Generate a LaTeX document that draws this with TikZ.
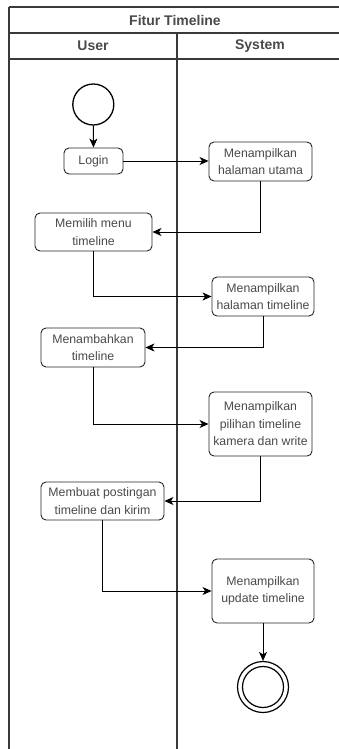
\documentclass[tikz,border=0pt]{standalone}
\usepackage{fontspec}
\setmainfont{Liberation Sans}
\usetikzlibrary{positioning,arrows.meta}

\definecolor{txtgrey}{HTML}{4A4A4A}
\definecolor{lanegrey}{HTML}{3A3A3A}

\tikzset{
	act/.style={draw=black!85,line width=0.9pt,rounded corners=5pt,fill=white,
		text=txtgrey,font=\fontsize{12.3}{17.5}\selectfont,align=center,inner sep=1pt},
	arr/.style={line width=1pt,-{Stealth[length=9pt,width=8pt,inset=2.5pt]}},
	lane/.style={lanegrey,line width=1.1pt}
}

\begin{document}
\begin{tikzpicture}[x=1pt,y=-1pt]
		\useasboundingbox[fill=white](0,0) rectangle (339,749);
		% swimlane frame
		\foreach \y in{7,33,59}
		\draw[lane](9,\y)--(339,\y);
		\draw[lane](9,7)--(9,749);
		\draw[lane](177,33)--(177,749);
		\node[font=\bfseries\fontsize{14}{16}\selectfont,text=txtgrey] (judul) at (175,20) {Fitur Timeline};
		\node[font=\bfseries\fontsize{14}{16}\selectfont,text=txtgrey] (user) at (93,46) {User};
		\node[font=\bfseries\fontsize{14}{16}\selectfont,text=txtgrey] (system) at (260,46) {System};
		% start / end
		\node[draw,circle,line width=1.3pt,minimum size=41pt,inner sep=0pt] (mulai) at (93.3,104.5) {};
		\node[draw,circle,line width=1.2pt,minimum size=51pt,inner sep=0pt] (selesai) at (263,687) {};
		\node[draw,circle,line width=1.2pt,minimum size=41pt,inner sep=0pt] at (selesai) {};
		% activities
		\node[act,minimum width=59pt,minimum height=26pt] (login) at (93.5,161) {Login};
		\node[act,minimum width=103pt,minimum height=39pt] (utama) at (260.5,161.5) {Menampilkan\\halaman utama};
		\node[act,minimum width=117pt,minimum height=38pt] (memilih) at (93.5,232) {Memilih menu\\timeline};
		\node[act,minimum width=102pt,minimum height=39pt] (haltl) at (263,296.5) {Menampilkan\\halaman timeline};
		\node[act,minimum width=104pt,minimum height=39pt] (tambah) at (93,347.5) {Menambahkan\\timeline};
		\node[act,minimum width=103pt,minimum height=64pt] (pilihan) at (260.5,424) {Menampilkan\\pilihan timeline\\kamera dan write};
		\node[act,minimum width=123pt,minimum height=38pt] (membuat) at (102.5,501) {Membuat postingan\\timeline dan kirim};
		\node[act,minimum width=102pt,minimum height=64pt] (update) at (263,591) {Menampilkan\\update timeline};
		% flows
		\draw[arr](mulai)--(login);
		\draw[arr](login)--(login-|utama.west);
		\draw[arr](utama.south)|-(memilih.east);
		\draw[arr](memilih.south)|-(haltl.west);
		\draw[arr](haltl.south)|-(tambah.east);
		\draw[arr](tambah.south)|-(pilihan.west);
		\draw[arr](pilihan.south)|-(membuat.east);
		\draw[arr](membuat.south)|-(update.west);
		\draw[arr](update)--(selesai);
	\end{tikzpicture}
\end{document}
